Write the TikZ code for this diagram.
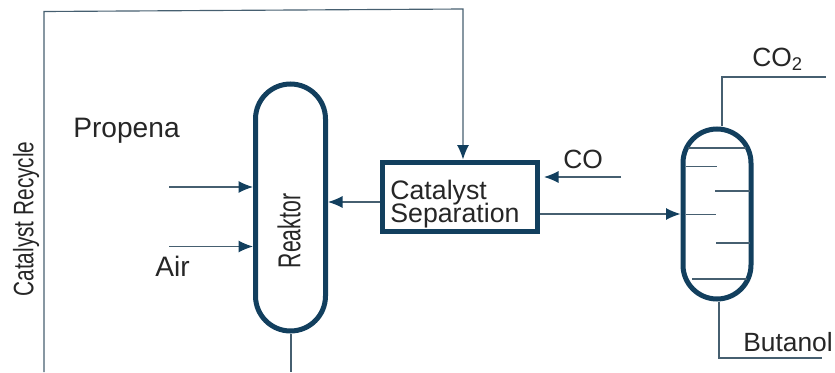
\documentclass[tikz,border=0pt]{standalone}
\usepackage{fontspec}
\setmainfont{Liberation Sans}
\usetikzlibrary{arrows.meta}
\definecolor{vesselblue}{HTML}{123F5E}
\definecolor{pipegrey}{HTML}{465F70}
\tikzset{
    vessel/.style={draw=vesselblue,line width=.1cm,inner sep=0pt},
    pipe/.style={draw=pipegrey,line width=.65pt},
    feed/.style={pipe,-{Latex[length=.29cm,width=.24cm,color=vesselblue]}},
    lab/.style={font=\fontsize{15}{15}\selectfont,inner sep=0pt,text=black!85,anchor=base west}
}

\begin{document}
\begin{tikzpicture}
            \useasboundingbox (0,0) rectangle (16.7,7.44);
            \node[vessel,minimum width=1.4cm,minimum height=4.94cm,rounded corners=.7cm] (reaktor) at (5.81,3.29) {};
            \node[vessel,minimum width=3.11cm,minimum height=1.38cm] (sepbox) at (9.195,3.51) {};
            \node[vessel,minimum width=1.36cm,minimum height=3.4cm,rounded corners=.68cm] (column) at (14.34,3.16) {};
            \node[lab,anchor=west,align=left,font=\fontsize{15.2}{15}\selectfont] (seplab) at (7.8,3.35) {Catalyst\\[-2pt]Separation};
            \node[rotate=90,xscale=.67,font=\fontsize{18}{18}\selectfont,text=black!85,inner sep=0pt] (reaktorlab) at (5.78,2.82) {Reaktor};
            \node[rotate=90,xscale=.74,font=\fontsize{16}{16}\selectfont,text=black!85,inner sep=0pt] (recyclelab) at (.52,3.06) {Catalyst Recycle};
            \node[lab,font=\fontsize{16}{16}\selectfont] (propena) at (1.46,4.7) {Propena};
            \node[lab,font=\fontsize{16}{16}\selectfont] (air) at (3.1,1.91) {Air};
            \node[lab] (co) at (11.26,4.08) {CO};
            \node[lab] (cotwo) at (15.04,6.12) {CO\textsubscript{2}};
            \node[lab] (butanol) at (14.86,.42) {Butanol};
            \coordinate (recyclestart) at (.88,0);
            \coordinate (recycleleft) at (.88,7.21);
            \coordinate (recycleright) at (9.26,7.26);
            \coordinate (propenain) at (3.38,3.7);
            \coordinate (airin) at (3.38,2.51);
            \coordinate (backflow) at (7,3.4);
            \coordinate (coin) at (12.42,3.9);
            \coordinate (reaktorout) at (5.82,0);
            \coordinate (cotwobend) at (14.44,5.9);
            \coordinate (cotwoend) at (16.52,5.9);
            \coordinate (butanolbend) at (14.38,.28);
            \coordinate (butanolend) at (16.44,.28);
            \draw[feed] (recyclestart) -- (recycleleft) -- (recycleright) -- (recycleright |- sepbox.north);
            \draw[feed] (propenain) -- (propenain -| reaktor.west);
            \draw[feed] (airin) -- (airin -| reaktor.west);
            \draw[feed] (backflow -| sepbox.west) -- (backflow -| reaktor.east);
            \draw[feed,shorten >=.08cm] (coin) -- (coin -| sepbox.east);
            \draw[feed] (sepbox.east |- column.west) -- (column.west);
            \draw[pipe] (reaktorout |- reaktor.south) -- (reaktorout);
            \draw[pipe] (cotwobend |- column.north) -- (cotwobend) -- (cotwoend);
            \draw[pipe] (butanolbend |- column.south) -- (butanolbend) -- (butanolend);
            \foreach \trayy/\traya/\trayb in {148/688/746,166.5/686/717,191/715/750,214.5/686/716,243/716/750,279/692/747}
                \draw[pipe] (\traya/50,{(372-\trayy)/50}) -- (\trayb/50,{(372-\trayy)/50});
        \end{tikzpicture}
\end{document}
